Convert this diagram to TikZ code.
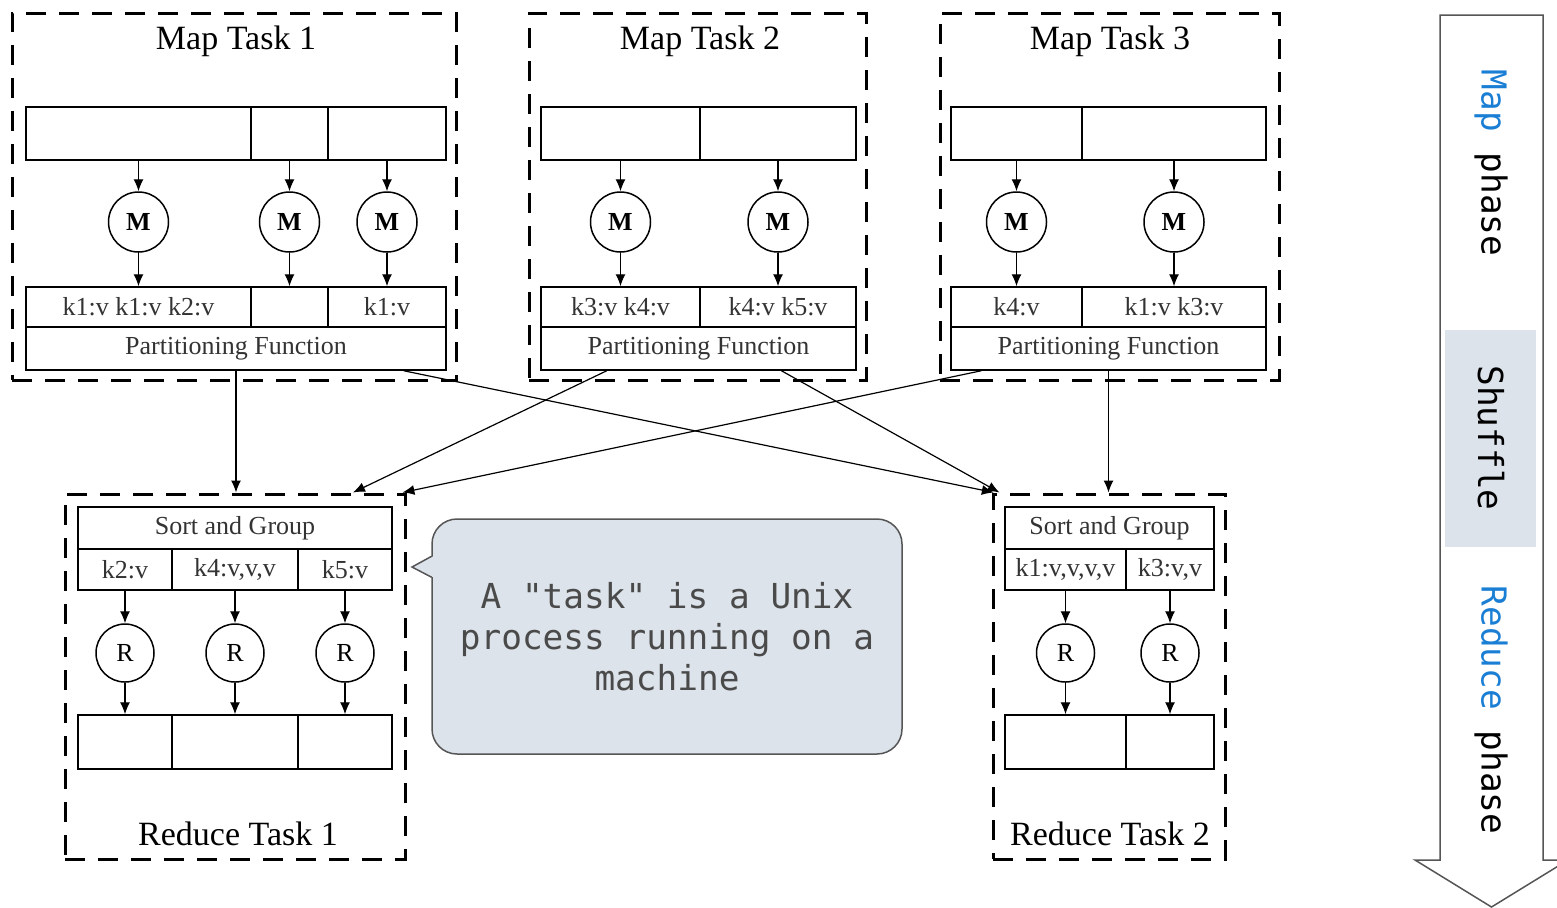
\documentclass[tikz,border=0pt]{standalone}
\usepackage{fontspec}
\setmainfont{Liberation Serif}
\newfontfamily\monofont{DejaVu Sans Mono}
\usepackage{tikz}
\usetikzlibrary{calc,arrows.meta}

\definecolor{mapblue}{HTML}{1A7FD4}
\definecolor{notefill}{HTML}{DCE3EA}
\definecolor{noteline}{HTML}{555555}
\definecolor{notetext}{HTML}{4A4A4A}

\tikzset{
  wd/.style={minimum width=#1*0.5pt},
  ht/.style={minimum height=#1*0.5pt},
  taskbox/.style={draw, line width=1.5pt, dash pattern=on 10pt off 6.5pt, inner sep=0},
  cell/.style={draw, line width=0.75pt, inner sep=0, text=black!80, font=\fontsize{13}{15}\selectfont},
  inrow/.style={cell, ht=53},
  kvrow/.style={cell, ht=40},
  pfrow/.style={cell, ht=43},
  worker/.style={draw, circle, line width=0.75pt, inner sep=0, minimum size=30pt, font=\fontsize{13}{15}\selectfont},
  tasktitle/.style={font=\fontsize{17}{20}\selectfont},
  flow/.style={->, line width=0.6pt},
  phase/.style={rotate=-90, font=\monofont\fontsize{17.2}{20}\selectfont},
}

\begin{document}
\begin{tikzpicture}[x=0.5pt, y=-0.5pt, >={Latex[length=6pt,width=5pt]}]
\useasboundingbox (0,0) rectangle (1557,907);

% map tasks
\node[taskbox, wd=444, ht=367] (map1) at (234,196.5) {};
\node[tasktitle] (title1) at (236,41) {Map Task 1};
\node[inrow, wd=225] (in1a) at (138.5,133.5) {};
\node[inrow, wd=77] (in1b) at (289.5,133.5) {};
\node[inrow, wd=118] (in1c) at (387,133.5) {};
\node[worker] (m1a) at (138.5,222) {\textbf{M}};
\node[worker] (m1b) at (289.5,222) {\textbf{M}};
\node[worker] (m1c) at (387,222) {\textbf{M}};
\node[kvrow, wd=225] (kv1a) at (138.5,307) {k1:v k1:v k2:v};
\node[kvrow, wd=77] (kv1b) at (289.5,307) {};
\node[kvrow, wd=118] (kv1c) at (387,307) {k1:v};
\node[pfrow, wd=420] (pf1) at (236,348.5) {Partitioning Function};

\node[taskbox, wd=337, ht=367] (map2) at (697.5,196.5) {};
\node[tasktitle] (title2) at (700,41) {Map Task 2};
\node[inrow, wd=159] (in2a) at (620.5,133.5) {};
\node[inrow, wd=156] (in2b) at (778,133.5) {};
\node[worker] (m2a) at (620.5,222) {\textbf{M}};
\node[worker] (m2b) at (778,222) {\textbf{M}};
\node[kvrow, wd=159] (kv2a) at (620.5,307) {k3:v k4:v};
\node[kvrow, wd=156] (kv2b) at (778,307) {k4:v k5:v};
\node[pfrow, wd=315] (pf2) at (698.5,348.5) {Partitioning Function};

\node[taskbox, wd=339, ht=367] (map3) at (1109.5,196.5) {};
\node[tasktitle] (title3) at (1110,41) {Map Task 3};
\node[inrow, wd=131] (in3a) at (1016.5,133.5) {};
\node[inrow, wd=184] (in3b) at (1174,133.5) {};
\node[worker] (m3a) at (1016.5,222) {\textbf{M}};
\node[worker] (m3b) at (1174,222) {\textbf{M}};
\node[kvrow, wd=131] (kv3a) at (1016.5,307) {k4:v};
\node[kvrow, wd=184] (kv3b) at (1174,307) {k1:v k3:v};
\node[pfrow, wd=315] (pf3) at (1108.5,348.5) {Partitioning Function};

\foreach \t/\c in {1/a,1/b,1/c,2/a,2/b,3/a,3/b}{
  \draw[flow] (in\t\c) -- (m\t\c);
  \draw[flow] (m\t\c) -- (kv\t\c);
}

% reduce tasks
\node[taskbox, wd=340, ht=365] (red1) at (235,676.5) {};
\node[tasktitle] (title4) at (238,834) {Reduce Task 1};
\node[cell, wd=314, ht=42] (sg1) at (235,528) {Sort and Group};
\node[cell, wd=94, ht=41] (kv4a) at (125,569.5) {k2:v};
\node[cell, wd=126, ht=41] (kv4b) at (235,569.5) {k4:v,v,v};
\node[cell, wd=94, ht=41] (kv4c) at (345,569.5) {k5:v};
\node[worker, minimum size=29pt] (r4a) at (125,653) {R};
\node[worker, minimum size=29pt] (r4b) at (235,653) {R};
\node[worker, minimum size=29pt] (r4c) at (345,653) {R};
\node[cell, wd=94, ht=54] (out4a) at (125,742) {};
\node[cell, wd=126, ht=54] (out4b) at (235,742) {};
\node[cell, wd=94, ht=54] (out4c) at (345,742) {};

\node[taskbox, wd=232, ht=365] (red2) at (1109,676.5) {};
\node[tasktitle] (title5) at (1110,834) {Reduce Task 2};
\node[cell, wd=209, ht=42] (sg2) at (1109.5,528) {Sort and Group};
\node[cell, wd=121, ht=41] (kv5a) at (1065.5,569.5) {k1:v,v,v,v};
\node[cell, wd=88, ht=41] (kv5b) at (1170,569.5) {k3:v,v};
\node[worker, minimum size=29pt] (r5a) at (1065.5,653) {R};
\node[worker, minimum size=29pt] (r5b) at (1170,653) {R};
\node[cell, wd=121, ht=54] (out5a) at (1065.5,742) {};
\node[cell, wd=88, ht=54] (out5b) at (1170,742) {};

\foreach \t/\c in {4/a,4/b,4/c,5/a,5/b}{
  \draw[flow] (kv\t\c) -- (r\t\c);
  \draw[flow] (r\t\c) -- (out\t\c);
}

% shuffle
\draw[flow] (pf1.south) -- (pf1.south |- red1.north);
\draw[flow] ($(pf1.south west)!0.898!(pf1.south east)$) -- ($(red2.north west)!0.01!(red2.north east)$);
\draw[flow] ($(pf2.south west)!0.21!(pf2.south east)$) -- ($(red1.north west)!0.844!(red1.north east)$);
\draw[flow] ($(pf2.south west)!0.762!(pf2.south east)$) -- ($(red2.north west)!0.034!(red2.north east)$);
\draw[flow] ($(pf3.south west)!0.098!(pf3.south east)$) -- ($(red1.north west)!0.988!(red1.north east)$);
\draw[flow] (pf3.south) -- (pf3.south |- red2.north);

% callout
\node[draw=noteline, fill=notefill, line width=0.75pt, rounded corners=12.5pt, wd=470, ht=235,
      align=center, text=notetext, font=\monofont\fontsize{17.2}{20.5}\selectfont] (note) at (667,636.5)
  {A "task" is a Unix\\process running on a\\machine};
\coordinate (tip) at (412,567);
\fill[notefill] ($(note.north west)+(2,38)$) -- (tip) -- ($(note.north west)+(2,59)$) -- cycle;
\draw[noteline, line width=0.75pt] ($(note.north west)+(0.4,38)$) -- (tip) -- ($(note.north west)+(0.4,59)$);

% phases
\draw[noteline, line width=0.75pt] (1440,15) -- (1543,15) -- (1543,860) -- (1568,860)
  -- (1491.5,907) -- (1415,860) -- (1440,860) -- cycle;
\fill[notefill] (1445,330) rectangle (1536,547);
\node[phase] (mapphase) at (1491,163) {\textcolor{mapblue}{Map} phase};
\node[phase] (shuffle) at (1491,438) {Shuffle};
\node[phase] (redphase) at (1491,710) {\textcolor{mapblue}{Reduce} phase};
\end{tikzpicture}
\end{document}
